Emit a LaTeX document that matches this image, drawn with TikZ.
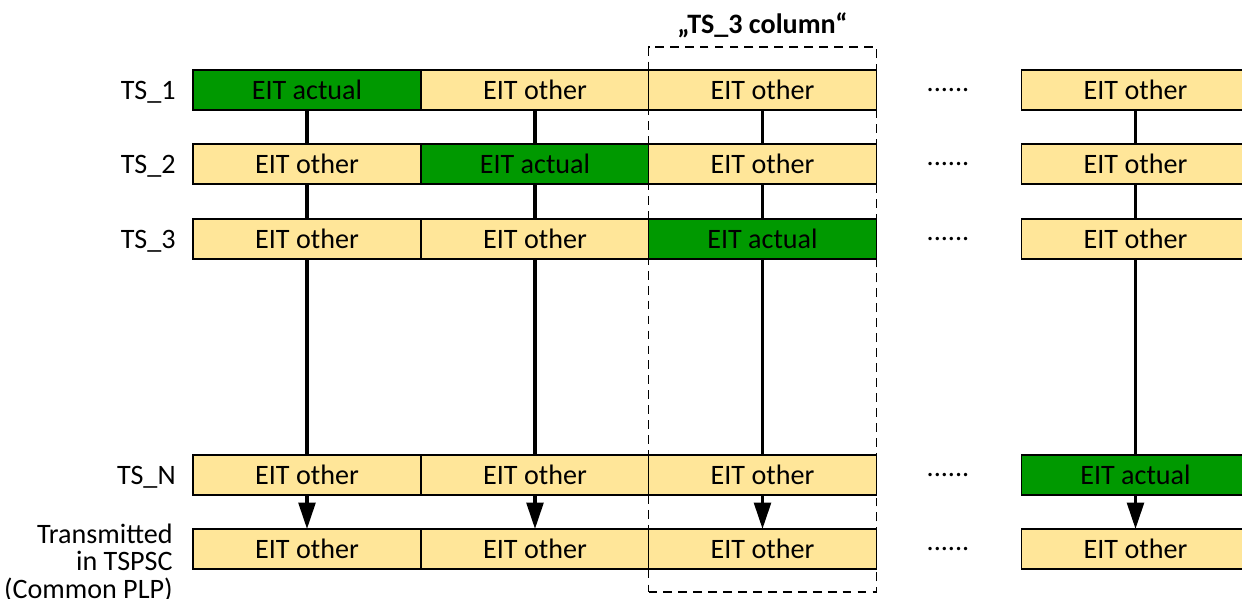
\documentclass[tikz,border=0pt]{standalone}
\usepackage{fontspec}
\setmainfont{Carlito}
\usetikzlibrary{positioning,arrows.meta,fit}
\definecolor{eitother}{RGB}{255,230,153}
\definecolor{eitactual}{RGB}{0,153,0}
\newcommand{\eitfont}{\fontsize{16}{15.5}\selectfont}
\tikzset{
  cell/.style={draw,line width=1.1pt,minimum width=4.56cm,minimum height=0.8cm,inner sep=0pt,outer sep=0pt,font=\eitfont},
  oth/.style={cell,fill=eitother},
  act/.style={cell,fill=eitactual},
  lbl/.style={font=\eitfont,inner sep=0pt},
  link/.style={line width=1.9pt},
  tx/.style={link,-{Triangle[length=15pt,width=9.5pt]}},
  colbox/.style={draw,line width=0.8pt,dash pattern=on 5pt off 3.5pt,inner xsep=0pt,inner ysep=0.46cm},
}

\begin{document}
\begin{tikzpicture}
  \clip (0,0) rectangle (24.84,-11.98);
  % cells: one row per transport stream, EIT actual on the diagonal
  \foreach \r/\y in {1/-1.80,2/-3.28,3/-4.78,4/-9.50,5/-10.98}{
    \foreach \c/\x in {1/6.14,2/10.70,3/15.25,4/22.71}{
      \ifnum\r=\c \def\kind{act}\def\celltext{EIT actual}\else\def\kind{oth}\def\celltext{EIT other}\fi
      \node[\kind] (c\r\c) at (\x,\y) {\celltext};
    }
    \node[lbl] (d\r) at (18.96,\y) {......};
  }
  % row labels
  \foreach \r/\name in {1/TS\_1,2/TS\_2,3/TS\_3,4/TS\_N}
    \node[lbl,anchor=base east] (l\r) at ([xshift=-0.34cm]c\r1.base west) {\name};
  \node[lbl,align=right,anchor=east] (l5) at (3.46,-11.26) {Transmitted\\in TSPSC\\(Common PLP)};
  % columns
  \foreach \c in {1,...,4}{
    \draw[link] (c1\c) -- (c2\c);
    \draw[link] (c2\c) -- (c3\c);
    \draw[link] (c3\c) -- (c4\c);
    \draw[tx] (c4\c) -- (c5\c);
  }
  \node[colbox,fit=(c13)(c53)] (col3) {};
  \node[lbl,font=\eitfont\bfseries,anchor=base] (title) at (15.25,-0.66) {„TS\_3 column“};
\end{tikzpicture}
\end{document}
